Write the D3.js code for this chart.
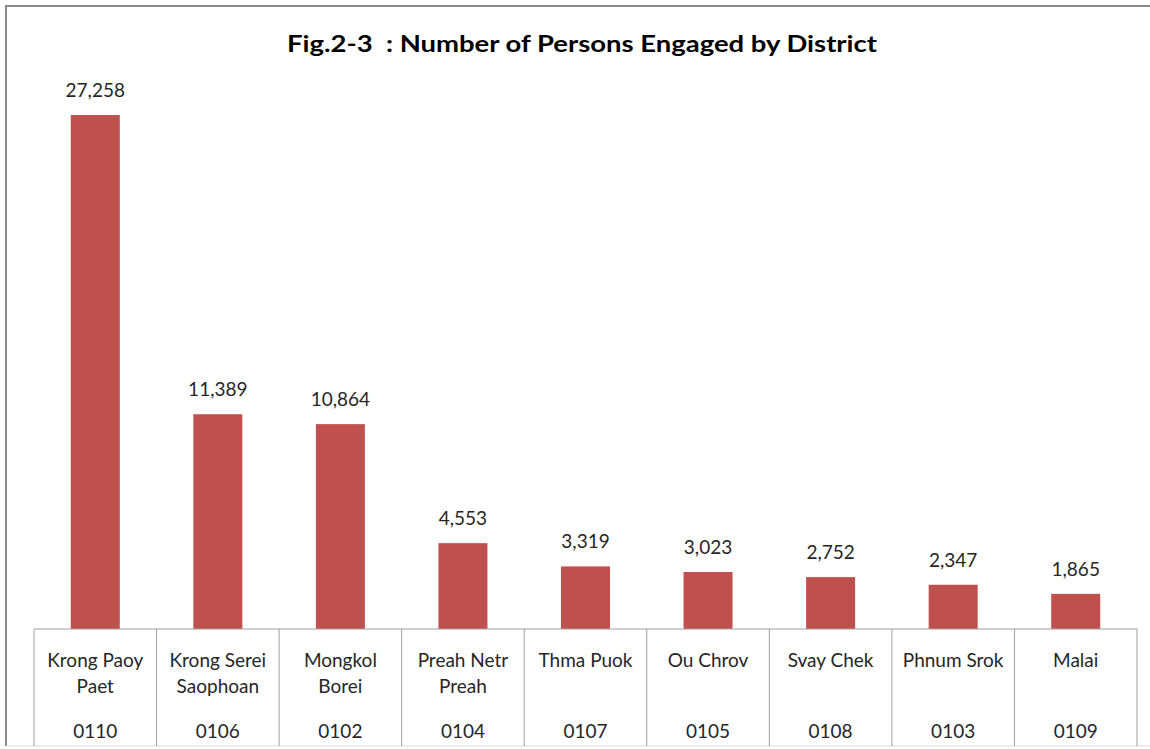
<!DOCTYPE html>
<html><head><meta charset="utf-8">
<script src="https://cdn.jsdelivr.net/npm/d3@7"></script>
<style>body{margin:0;background:#fff}svg{display:block}</style>
</head><body>
<svg id="c" width="1150" height="749"></svg>
<script>
const districts = [["Krong Paoy","Paet"],["Krong Serei","Saophoan"],["Mongkol","Borei"],["Preah Netr","Preah"],["Thma Puok"],["Ou Chrov"],["Svay Chek"],["Phnum Srok"],["Malai"]];
const codes = ["0110","0106","0102","0104","0107","0105","0108","0103","0109"];
const persons = [27258,11389,10864,4553,3319,3023,2752,2347,1865];
const title = "Fig.2-3\u00a0\u00a0: Number of Persons Engaged by District";

const svg = d3.select("#c");
const font = "Lato, 'Open Sans', sans-serif";
const tableLeft = 34, tableRight = 1137, baseY = 629, tableBottom = 746;

// outer frame
svg.append("path").attr("d","M6,746V6H1150").attr("fill","none").attr("stroke","#8a8a8a").attr("stroke-width",2);
svg.append("line").attr("x1",6).attr("x2",1150).attr("y1",746).attr("y2",746).attr("stroke","#d9d9d9");

const x = d3.scaleBand().domain(codes).range([tableLeft, tableRight]).paddingInner(0).paddingOuter(0);
const y = d3.scaleLinear().domain([0,30000]).range([baseY, baseY - 565.7]);
const bw = 49;

svg.append("text").attr("x",582).attr("y",52).attr("text-anchor","middle")
  .attr("font-family",font).attr("font-weight","bold").attr("font-size",22).attr("fill","#000")
  .attr("textLength",590).attr("lengthAdjust","spacingAndGlyphs").text(title);

svg.selectAll("rect.bar").data(persons).join("rect").attr("class","bar")
  .attr("x",(d,i)=>x(codes[i]) + x.bandwidth()/2 - bw/2).attr("width",bw)
  .attr("y",d=>y(d)).attr("height",d=>y(0)-y(d)).attr("fill","#C0504D");

svg.selectAll("text.val").data(persons).join("text").attr("class","val")
  .attr("x",(d,i)=>x(codes[i]) + x.bandwidth()/2).attr("y",d=>y(d)-18)
  .attr("text-anchor","middle").attr("font-family",font).attr("font-size",19).attr("fill","#262626")
  .text(d=>d3.format(",")(d));

// table lines
const g = svg.append("g");
g.append("line").attr("x1",tableLeft).attr("x2",tableRight).attr("y1",baseY).attr("y2",baseY).attr("stroke","#a0a0a0");
x.domain().concat(["end"]).forEach((c,i)=>{
  const xx = i < codes.length ? x(c) : tableRight;
  g.append("line").attr("x1",xx).attr("x2",xx).attr("y1",baseY).attr("y2",tableBottom).attr("stroke","#a0a0a0");
});

codes.forEach((c,i)=>{
  const cx = x(c) + x.bandwidth()/2;
  const t = svg.append("text").attr("text-anchor","middle").attr("font-family",font).attr("font-size",19).attr("fill","#262626");
  districts[i].forEach((line,j)=>{
    t.append("tspan").attr("x",cx).attr("y",667 + j*26).text(line);
  });
  svg.append("text").attr("x",cx).attr("y",738).attr("text-anchor","middle").attr("font-family",font).attr("font-size",19).attr("fill","#262626").text(c);
});
</script>
</body></html>
